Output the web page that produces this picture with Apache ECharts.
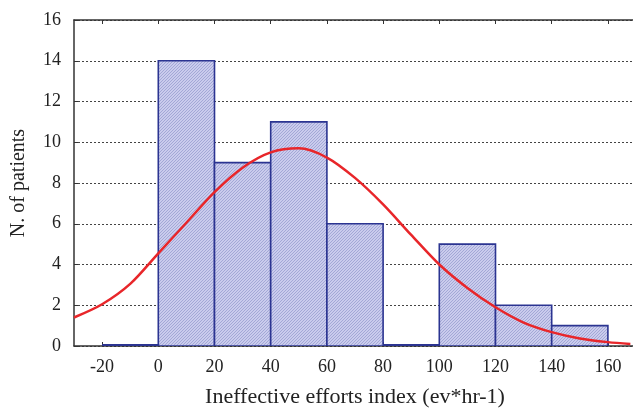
<!DOCTYPE html>
<html>
<head>
<meta charset="utf-8">
<script src="https://cdn.jsdelivr.net/npm/echarts@6/dist/echarts.min.js"></script>
<style>
  html, body { margin: 0; padding: 0; background: #fff; }
  #chart { width: 633px; height: 408px; }
</style>
</head>
<body>
<div id="chart"></div>
<script>
// histogram bins: [start, end]
const binStarts = [-20, 0, 20, 40, 60, 80, 100, 120, 140]
const binEnds = [0, 20, 40, 60, 80, 100, 120, 140, 160]
const binCounts = [0, 14, 9, 11, 6, 0, 5, 2, 1]

// fitted curve
const curveX = [-30, -20, -10, 0, 10, 20, 30, 40, 50, 60, 70, 80, 90, 100, 110, 120, 130, 140, 150, 160, 168]
const curveY = [1.4, 2.05, 3.05, 4.55, 6.05, 7.55, 8.75, 9.5, 9.7, 9.25, 8.25, 6.95, 5.45, 4.0, 2.85, 1.9, 1.15, 0.68, 0.37, 0.19, 0.1]

const xTicks = [-20, 0, 20, 40, 60, 80, 100, 120, 140, 160]

// hatch pattern for the bars
const hatch = document.createElement("canvas")
hatch.width = 3
hatch.height = 3
const hc = hatch.getContext("2d")
hc.fillStyle = "#cacced"
hc.fillRect(0, 0, 3, 3)
hc.fillStyle = "#a3a8d6"
// one pixel per row, shifted -> "/" diagonal
hc.fillRect(2, 0, 1, 1)
hc.fillRect(1, 1, 1, 1)
hc.fillRect(0, 2, 1, 1)

const font = "Liberation Serif"
const txt = "#222"
const barEdge = "#2b3491"

const chart = echarts.init(document.getElementById("chart"))

const option = {
  backgroundColor: "#fff",
  animation: false,
  grid: { left: 74, right: -3, top: 20, bottom: 62, outerBoundsMode: "none" },
  xAxis: [
    {
      type: "value",
      min: -30,
      max: 170,
      name: "Ineffective efforts index (ev*hr-1)",
      nameLocation: "middle",
      nameGap: 40,
      nameTextStyle: { fontFamily: font, fontSize: 22, color: txt },
      axisLine: { show: true, onZero: false, lineStyle: { color: "#333", width: 1.5 } },
      axisTick: { show: true, inside: true, length: 4, customValues: xTicks, lineStyle: { color: "#333" } },
      axisLabel: { customValues: xTicks, margin: 12, fontFamily: font, fontSize: 18, color: txt },
      splitLine: { show: false }
    },
    {
      type: "value",
      position: "top",
      min: -30,
      max: 170,
      axisLine: { show: true, onZero: false, lineStyle: { color: "#333", width: 1.5 } },
      axisTick: { show: true, inside: true, length: 4, customValues: xTicks, lineStyle: { color: "#333" } },
      axisLabel: { show: false },
      splitLine: { show: false }
    }
  ],
  yAxis: {
    type: "value",
    min: 0,
    max: 16,
    interval: 2,
    name: "N. of patients",
    nameLocation: "middle",
    nameGap: 45,
    nameTextStyle: { fontFamily: font, fontSize: 20, color: txt },
    axisLine: { show: true, onZero: false, lineStyle: { color: "#333", width: 1.5 } },
    axisTick: { show: true, inside: true, length: 4, lineStyle: { color: "#333" } },
    axisLabel: { margin: 13, fontFamily: font, fontSize: 18, color: txt },
    splitLine: { show: true, lineStyle: { color: "#444", type: [2, 2], width: 1 } }
  },
  series: [
    {
      type: "custom",
      xAxisIndex: 0,
      z: 2,
      clip: true,
      data: binStarts.map((s, i) => [s, binEnds[i], binCounts[i]]),
      renderItem: function (params, api) {
        const p0 = api.coord([api.value(0), api.value(2)])
        const p1 = api.coord([api.value(1), 0])
        if (api.value(2) === 0) {
          // empty bin: only the bottom edge shows
          return {
            type: "line",
            shape: { x1: p0[0], y1: p1[1] - 1, x2: p1[0], y2: p1[1] - 1 },
            style: { stroke: barEdge, lineWidth: 2 }
          }
        }
        return {
          type: "rect",
          shape: { x: p0[0], y: p0[1], width: p1[0] - p0[0], height: p1[1] - p0[1] },
          style: {
            fill: { image: hatch, repeat: "repeat" },
            stroke: barEdge,
            lineWidth: 1.6
          }
        }
      }
    },
    {
      type: "line",
      xAxisIndex: 0,
      z: 3,
      smooth: 0.3,
      symbol: "none",
      data: curveX.map((x, i) => [x, curveY[i]]),
      lineStyle: { color: "#e8262a", width: 2.5 }
    }
  ]
}

chart.setOption(option)
</script>
</body>
</html>
